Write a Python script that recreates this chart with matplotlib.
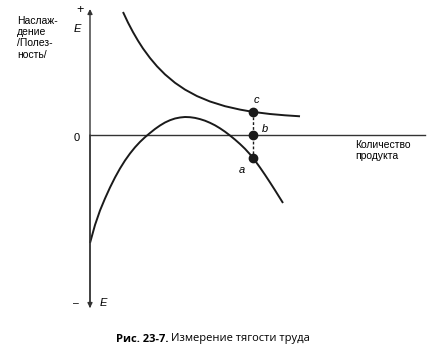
import matplotlib
matplotlib.use("Agg")
import matplotlib.pyplot as plt

# Data (quantity of product vs. utility)
upper_x = [33, 38, 43, 48, 53, 60, 67, 75, 85, 95, 107, 120, 135, 150, 163, 180, 195, 210]
upper_y = [123, 112.4, 102.9, 94.3, 86.5, 77, 68.7, 60.6, 52.2, 45.4, 38.9, 33.5, 28.8, 25.4, 23.1, 21, 19.7, 18.7]

lower_x = [0, 5, 10, 15, 20, 25, 30, 35, 40, 45, 50, 55, 60, 65, 70, 75, 80, 85, 90, 95,
           100, 105, 110, 115, 120, 125, 130, 135, 140, 145, 150, 155, 160, 163,
           165, 170, 175, 180, 185, 190, 193]
lower_y = [-108, -90, -75.5, -63.5, -52.5, -42.5, -33.5, -25.5, -18.5, -12.3, -6.9, -2.2,
           2, 6, 9.5, 12.5, 14.8, 16.5, 17.5, 18,
           17.8, 17.1, 15.9, 14.3, 12.2, 9.7, 6.7, 3.3, -0.5, -4.6, -9.0, -13.8, -19.3, -23,
           -25.6, -32.5, -39.8, -47.4, -55.2, -63.2, -68]

point_x = 163
point_labels = ["c", "b", "a"]
point_y = [23, 0, -23]

y_label = "Наслаж-\nдение\n/Полез-\nность/"
x_label = "Количество\nпродукта"
caption_bold = "Рис. 23-7."
caption_rest = "Измерение тягости труда"

plt.rcParams['font.family'] = ['Liberation Sans', 'DejaVu Sans']

fig = plt.figure(figsize=(4.34, 3.52), dpi=100)
ax = fig.add_axes([0, 0, 1, 1])
ax.set_xlim(-90, 344)
ax.set_ylim(-217, 135)
ax.axis('off')

ink = '#1a1a1a'
axc = '#333333'
# axes with arrows
ax.annotate('', xy=(0, 126), xytext=(0, -172),
            arrowprops=dict(arrowstyle='-|>', color=axc, lw=1.0,
                            mutation_scale=7, shrinkA=0, shrinkB=0))
ax.annotate('', xy=(0, -173), xytext=(0, 0),
            arrowprops=dict(arrowstyle='-|>', color=axc, lw=1.0,
                            mutation_scale=7, shrinkA=0, shrinkB=0))
ax.plot([0, 335], [0, 0], color=axc, lw=1.0)

# curves
ax.plot(upper_x, upper_y, color=ink, lw=1.4, solid_capstyle='butt')
ax.plot(lower_x, lower_y, color=ink, lw=1.4, solid_capstyle='butt')

# dashed connector and points
ax.plot([point_x, point_x], [point_y[0], point_y[-1]], color=ink, lw=1.0,
        linestyle=(0, (2, 1.5)))
ax.plot([point_x] * 3, point_y, 'o', color=ink, markersize=6)

fs = 7.5
ax.text(166, 35, point_labels[0], fontsize=fs + 0.5, style='italic', ha='center', va='center')
ax.text(175, 6, point_labels[1], fontsize=fs + 0.5, style='italic', ha='center', va='center')
ax.text(152, -35, point_labels[2], fontsize=fs + 0.5, style='italic', ha='center', va='center')

ax.text(-10, 125, '+', fontsize=9, ha='center', va='center')
ax.text(-13, 106, 'E', fontsize=fs + 0.5, style='italic', ha='center', va='center')
ax.text(-14, -168, '–', fontsize=fs, ha='center', va='center')
ax.text(13, -168, 'E', fontsize=fs + 0.5, style='italic', ha='center', va='center')
ax.text(-13, -3, '0', fontsize=fs + 0.5, ha='center', va='center')

ax.text(-73, 119, y_label, fontsize=fs, ha='left', va='top', linespacing=1.15)
ax.text(265, -5, x_label, fontsize=fs, ha='left', va='top', linespacing=1.1)

ax.text(79, -204, caption_bold, fontsize=8, fontweight='bold', ha='right',
        va='center', family=['Open Sans', 'DejaVu Sans'])
ax.text(81, -204, caption_rest, fontsize=8, ha='left', va='center',
        family=['Open Sans', 'DejaVu Sans'])

fig.savefig('out.png', dpi=100, facecolor='white')
